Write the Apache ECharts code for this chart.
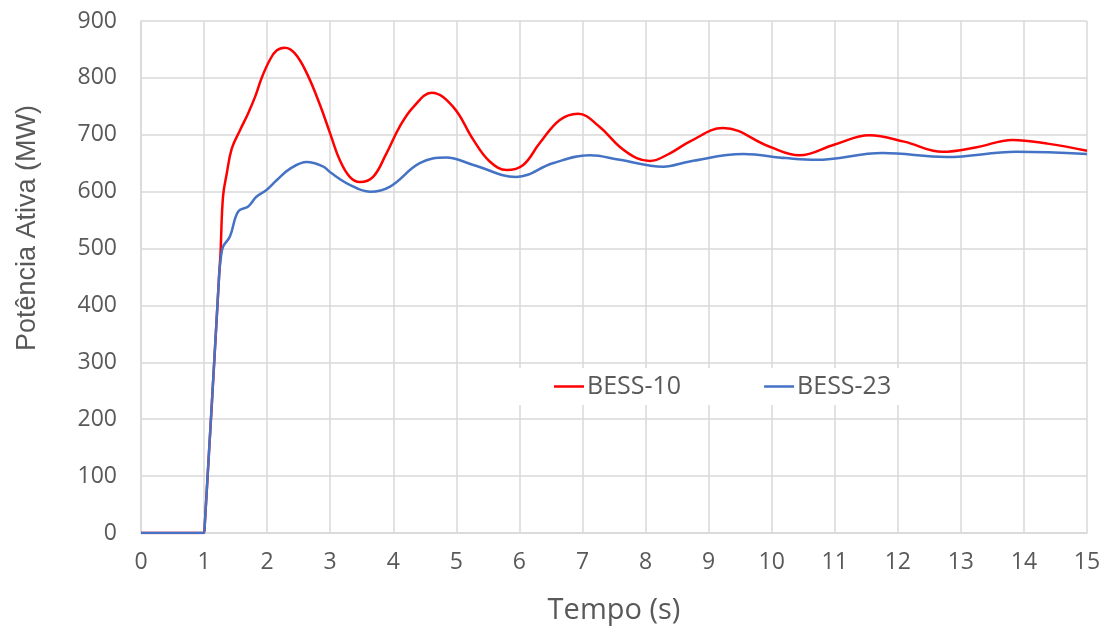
<!DOCTYPE html>
<html>
<head>
    <meta charset="utf-8">
    <title>BESS</title>
    <script src="https://cdn.jsdelivr.net/npm/echarts@6/dist/echarts.min.js"></script>
    <style>
        html, body { margin: 0; padding: 0; background: #fff; }
        #chart { width: 1109px; height: 633px; }
    </style>
</head>
<body>
<div id="chart"></div>
<script type="text/javascript">
    // Tempo (s) e potência (MW)
    var tempoBess10 = [0, 0.99, 1.01, 1.24, 1.26, 1.30, 1.36, 1.44, 1.57, 1.70, 1.81, 1.91, 2.04, 2.15, 2.28, 2.44, 2.63, 2.84, 3.0, 3.15, 3.31, 3.47, 3.68, 3.89, 4.10, 4.32, 4.61, 4.95, 5.27, 5.53, 5.80, 6.06, 6.32, 6.64, 6.93, 7.27, 7.59, 7.86, 8.07, 8.38, 8.70, 9.23, 9.97, 10.44, 11.0, 11.55, 12.1, 12.71, 13.25, 13.82, 14.4, 15.0];
    var potBess10 = [0, 0, 12, 455, 490, 591, 632, 676, 708, 738, 767, 799, 831, 848, 853, 843, 808, 752, 702, 656, 626, 617, 626, 667, 714, 749, 774, 749, 691, 653, 638, 647, 685, 726, 737, 714, 679, 659, 654, 667, 688, 712, 679, 664, 683, 699, 688, 670, 678, 691, 684, 672];

    var tempoBess23 = [0, 0.99, 1.01, 1.24, 1.26, 1.30, 1.41, 1.54, 1.70, 1.83, 1.99, 2.15, 2.36, 2.63, 2.89, 3.0, 3.31, 3.63, 3.95, 4.42, 4.84, 5.27, 5.95, 6.53, 7.12, 7.59, 8.28, 8.70, 9.55, 10.23, 10.7, 11.76, 12.77, 13.88, 15.0];
    var potBess23 = [0, 0, 12, 455, 478, 503, 521, 565, 574, 591, 603, 620, 640, 652, 644, 634, 612, 600, 609, 650, 660, 647, 626, 650, 664, 656, 644, 653, 666, 659, 656, 668, 661, 670, 666];

    var nomeSeries = ['BESS-10', 'BESS-23'];
    var corSeries = ['#ff0000', '#4472c4'];

    function juntar(xs, ys) {
        var out = [];
        for (var i = 0; i < xs.length; i++) {
            out.push([xs[i], ys[i]]);
        }
        return out;
    }

    var corTexto = '#595959';
    var corGrade = '#d9d9d9';
    var fonte = 'Open Sans';

    var chart = echarts.init(document.getElementById('chart'));
    var option = {
        animation: false,
        grid: { left: 141, right: 22, top: 21, bottom: 100, containLabel: false },
        legend: {
            data: nomeSeries,
            left: 517,
            top: 368,
            icon: 'rect',
            backgroundColor: '#ffffff',
            padding: [6, 8, 6, 37],
            itemWidth: 30,
            itemHeight: 2.5,
            itemGap: 83,
            textStyle: { color: corTexto, fontSize: 25, fontFamily: fonte, padding: [0, 0, 0, -2] }
        },
        // título do eixo y (fica acima do centro no original)
        graphic: [{
            type: 'text',
            x: 28,
            y: 228,
            rotation: Math.PI / 2,
            style: {
                text: 'Potência Ativa (MW)',
                fill: corTexto,
                font: '27px "Liberation Sans"',
                align: 'center',
                verticalAlign: 'middle'
            }
        }],
        xAxis: {
            type: 'value',
            min: 0, max: 15, interval: 1,
            name: 'Tempo (s)',
            nameLocation: 'middle',
            nameGap: 63,
            nameTextStyle: { color: corTexto, fontSize: 29, fontFamily: fonte },
            axisLine: { lineStyle: { color: corGrade, width: 1.5 } },
            axisTick: { show: false },
            axisLabel: { color: corTexto, fontSize: 23, fontFamily: fonte, margin: 18 },
            splitLine: { show: true, lineStyle: { color: corGrade, width: 1.5 } }
        },
        yAxis: {
            type: 'value',
            min: 0, max: 900, interval: 100,
            axisLine: { show: true, lineStyle: { color: corGrade, width: 1.5 } },
            axisTick: { show: false },
            axisLabel: { color: corTexto, fontSize: 23, fontFamily: fonte, margin: 24 },
            splitLine: { show: true, lineStyle: { color: corGrade, width: 1.5 } }
        },
        series: [
            {
                name: nomeSeries[0],
                type: 'line',
                data: juntar(tempoBess10, potBess10),
                symbol: 'none',
                smooth: 0.4,
                itemStyle: { color: corSeries[0] },
                lineStyle: { width: 2.5, color: corSeries[0] },
                z: 1
            },
            {
                name: nomeSeries[1],
                type: 'line',
                data: juntar(tempoBess23, potBess23),
                symbol: 'none',
                smooth: 0.4,
                itemStyle: { color: corSeries[1] },
                lineStyle: { width: 2.5, color: corSeries[1] },
                z: 2
            }
        ]
    };
    chart.setOption(option);
</script>
</body>
</html>
